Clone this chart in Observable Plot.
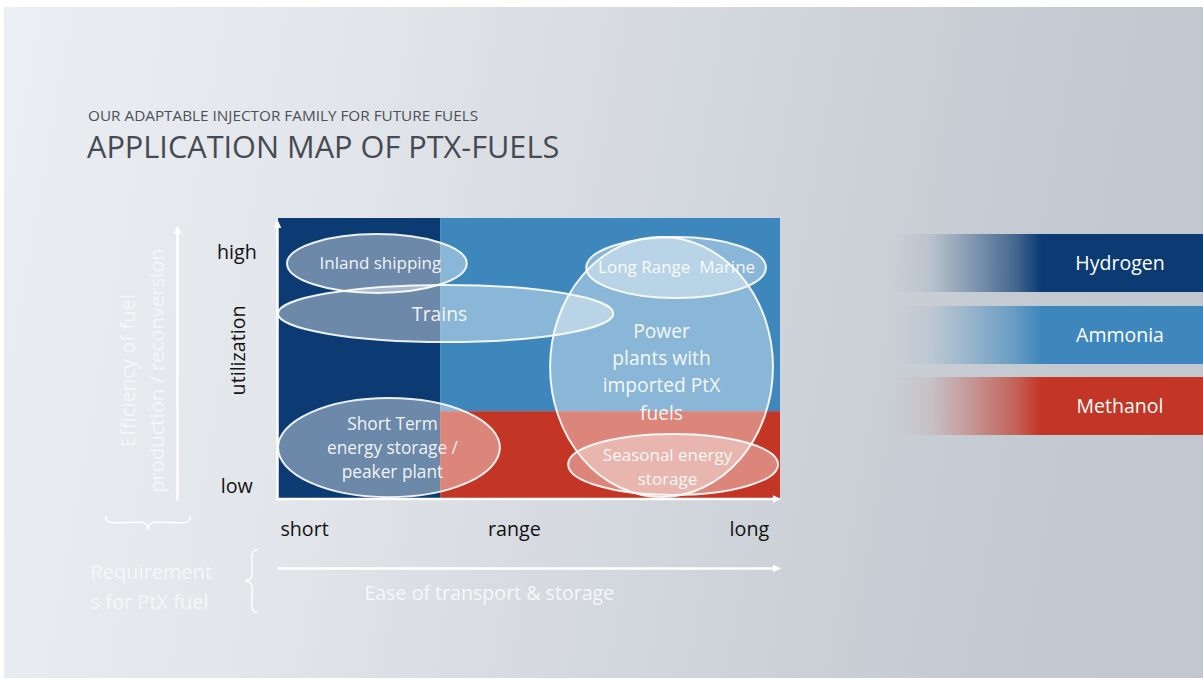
<!DOCTYPE html>
<html><head><meta charset="utf-8">
<script src="https://cdn.jsdelivr.net/npm/d3@7"></script>
<script src="https://cdn.jsdelivr.net/npm/@observablehq/plot@0.6"></script>
<style>
html,body{margin:0;padding:0;background:#fff;}
#page{position:relative;width:1203px;height:681px;overflow:hidden;font-family:"Open Sans",sans-serif;}
#bg{position:absolute;left:4px;top:7px;right:0;bottom:3px;background:linear-gradient(100deg,#ebeef2 0%,#e2e5ea 28%,#d1d6dc 58%,#c4cad1 82%,#c1c7cf 100%);}
#sub{position:absolute;left:88px;top:107.5px;font-size:15.3px;line-height:1;color:#4b5157;white-space:nowrap;}
#title{position:absolute;left:87px;top:131px;font-size:30.7px;line-height:1;color:#454b52;white-space:nowrap;}
#chart{position:absolute;left:0;top:0;}
.leg{position:absolute;left:893px;width:310px;height:58px;}
.leg span{position:absolute;left:177px;width:100px;text-align:center;top:50%;transform:translateY(-52%);color:#fff;font-size:19.5px;}
</style></head>
<body><div id="page"><div id="bg"></div>
<div id="sub">OUR ADAPTABLE INJECTOR FAMILY FOR FUTURE FUELS</div>
<div id="title">APPLICATION MAP OF PTX-FUELS</div>
<div id="chart"></div><div id="legend"></div></div>
<script>
// ---- data ----
const fuels = ["Hydrogen", "Ammonia", "Methanol"];
const fuelColors = ["#0b3b72", "#3d87bd", "#c33524"];
// regions on the map (x: range 0-10, y: utilization 0-10)
const regionX1 = [0, 3.23, 3.23];
const regionX2 = [3.23, 10, 10];
const regionY1 = [0, 3.1, 0];
const regionY2 = [10, 10, 3.1];

const appNames = ["Inland shipping", "Trains", "Short Term\nenergy storage /\npeaker plant", "Long Range  Marine", "Power\nplants with\nimported PtX\nfuels", "Seasonal energy\nstorage"];
const appCx = [1.97, 3.34, 2.21, 7.93, 7.64, 7.87];
const appCy = [8.375, 6.59, 1.80, 8.23, 4.68, 1.20];
const appRx = [1.79, 3.34, 2.21, 1.79, 2.22, 2.09];
const appRy = [1.05, 1.02, 1.77, 1.09, 4.64, 1.09];
const appLabelX = [2.03, 3.21, 2.27, 7.93, 7.63, 7.75];
const appLabelY = [8.48, 6.66, 1.88, 8.34, 4.58, 1.20];
const appFont = [17, 19.3, 17.3, 17, 19.2, 17];
const appLineHeight = [1.4, 1.4, 1.39, 1.4, 1.41, 1.41];

const xTicks = [0.52, 4.70, 9.38];
const xTickLabels = ["short", "range", "long"];
const yTicks = [0.43, 8.79];
const yTickLabels = ["low", "high"];

// ---- build ----
const regions = fuels.map((f, i) => ({fuel: f, color: fuelColors[i], x1: regionX1[i], x2: regionX2[i], y1: regionY1[i], y2: regionY2[i]}));
const apps = appNames.map((n, i) => ({name: n, cx: appCx[i], cy: appCy[i], rx: appRx[i], ry: appRy[i], lx: appLabelX[i], ly: appLabelY[i], fs: appFont[i], lh: appLineHeight[i]}));
const xt = xTicks.map((v, i) => ({v, label: xTickLabels[i]}));
const yt = yTicks.map((v, i) => ({v, label: yTickLabels[i]}));

// arrows (axis lines and annotation arrows)
const arrows = [
  {x1: -0.02, y1: -0.05, x2: -0.02, y2: 9.75, dir: "up"},
  {x1: -0.05, y1: -0.02, x2: 9.9, y2: -0.02, dir: "right"},
  {x1: -2.012, y1: -0.07, x2: -2.012, y2: 9.55, dir: "up"},
  {x1: -0.02, y1: -2.5, x2: 9.9, y2: -2.5, dir: "right"}
];
const braceV = [[-0.418,-1.821],[-0.498,-1.875],[-0.528,-2.0],[-0.528,-2.714],[-0.558,-2.875],[-0.657,-2.946],[-0.558,-3.018],[-0.528,-3.179],[-0.528,-3.893],[-0.498,-4.018],[-0.418,-4.071]];
const braceH = [[-3.446,-0.643],[-3.416,-0.786],[-3.347,-0.857],[-2.709,-0.857],[-2.629,-0.929],[-2.600,-1.107],[-2.570,-0.929],[-2.490,-0.857],[-1.853,-0.857],[-1.783,-0.786],[-1.753,-0.643]];

const triUp = {draw(ctx, size) { const r = Math.sqrt(size / Math.PI); ctx.moveTo(0, -r * 1.4); ctx.lineTo(r * 0.9, r * 0.6); ctx.lineTo(-r * 0.9, r * 0.6); ctx.closePath(); }};
const triRight = {draw(ctx, size) { const r = Math.sqrt(size / Math.PI); ctx.moveTo(r * 1.4, 0); ctx.lineTo(-r * 0.6, -r * 0.9); ctx.lineTo(-r * 0.6, r * 0.9); ctx.closePath(); }};

function ellipses(data) {
  return (index, scales) => {
    const sx = scales.x, sy = scales.y;
    const g = d3.create("svg:g");
    g.selectAll("ellipse").data(data).join("ellipse")
      .attr("cx", d => sx(d.cx)).attr("cy", d => sy(d.cy))
      .attr("rx", d => Math.abs(sx(d.cx + d.rx) - sx(d.cx)))
      .attr("ry", d => Math.abs(sy(d.cy + d.ry) - sy(d.cy)))
      .attr("fill", "#ffffff").attr("fill-opacity", 0.4)
      .attr("stroke", "#ffffff").attr("stroke-opacity", 0.9).attr("stroke-width", 2);
    return g.node();
  };
}

const plot = Plot.plot({
  width: 1203, height: 681,
  marginLeft: 278, marginRight: 423, marginTop: 218, marginBottom: 183,
  x: {domain: [0, 10], axis: null},
  y: {domain: [0, 10], axis: null},
  color: {type: "identity"},
  style: {background: "transparent", fontFamily: "'Open Sans', sans-serif", overflow: "visible"},
  marks: [
    Plot.rect(regions, {x1: "x1", x2: "x2", y1: "y1", y2: "y2", fill: "color"}),
    ellipses(apps),
    ...apps.map(a => Plot.text([a], {x: "lx", y: "ly", text: "name", fill: "#ffffff", fillOpacity: 0.93, fontSize: a.fs, lineHeight: a.lh})),
    Plot.link(arrows, {x1: "x1", y1: "y1", x2: "x2", y2: "y2", stroke: "#ffffff", strokeWidth: 2.5}),
    Plot.dot(arrows.filter(d => d.dir === "up"), {x: "x2", y: "y2", r: 4.2, symbol: triUp, fill: "#ffffff", stroke: "none"}),
    Plot.dot(arrows.filter(d => d.dir === "right"), {x: "x2", y: "y2", r: 4.2, symbol: triRight, fill: "#ffffff", stroke: "none"}),
    Plot.line(braceV, {x: d => d[0], y: d => d[1], stroke: "#ffffff", strokeWidth: 1.5, curve: "catmull-rom"}),
    Plot.line(braceH, {x: d => d[0], y: d => d[1], stroke: "#ffffff", strokeWidth: 1.5, curve: "catmull-rom"}),
    Plot.text(xt, {x: "v", y: -1.11, text: "label", fill: "#111", fontSize: 19.7}),
    Plot.text(yt, {x: -0.83, y: "v", text: "label", fill: "#111", fontSize: 19.7}),
    Plot.text(["utilization"], {x: -0.80, y: 5.29, text: d => d, rotate: -90, fill: "#111", fontSize: 19.7}),
    Plot.text(["Efficiency of fuel\nproduction / reconversion"], {x: -2.75, y: 4.57, text: d => d, rotate: -90, fill: "#f6f7f9", fontSize: 20.2, lineHeight: 1.45}),
    Plot.text(["Requirement\ns for PtX fuel"], {x: -3.745, y: -3.07, text: d => d, textAnchor: "start", fill: "#f6f7f9", fontSize: 20, lineHeight: 1.5}),
    Plot.text(["Ease of transport & storage"], {x: 4.20, y: -3.39, text: d => d, fill: "#f6f7f9", fontSize: 19.6})
  ]
});
document.getElementById("chart").appendChild(plot);

// legend
const legTop = [234, 306, 377];
const hex2rgb = h => [1, 3, 5].map(i => parseInt(h.slice(i, i + 2), 16)).join(",");
const leg = d3.select("#legend");
fuels.forEach((f, i) => {
  const c = hex2rgb(fuelColors[i]);
  leg.append("div").attr("class", "leg").style("top", legTop[i] + "px")
    .style("background", `linear-gradient(to right, rgba(${c},0) 0%, rgba(${c},0.08) 12%, rgba(${c},0.3) 23%, rgba(${c},0.68) 39%, rgba(${c},1) 48%, rgba(${c},1) 100%)`)
    .append("span").text(f);
});
</script></body></html>
